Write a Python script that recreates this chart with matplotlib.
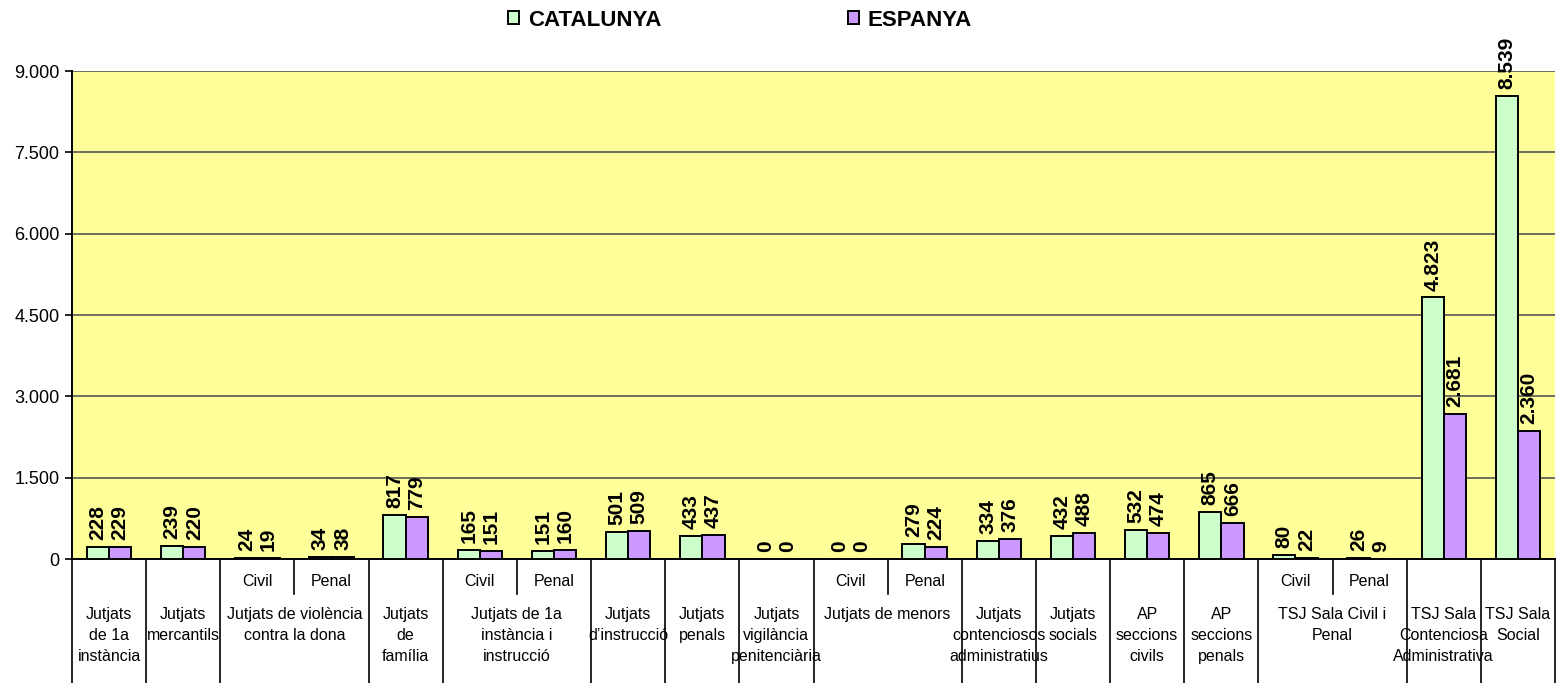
import matplotlib
matplotlib.use("Agg")
import matplotlib.pyplot as plt
from matplotlib.patches import Patch
from matplotlib.lines import Line2D
import matplotlib.transforms as mtransforms

plt.rcParams['font.family'] = ['Liberation Sans', 'DejaVu Sans']

# ---- data ----
sub_labels = ["", "", "Civil", "Penal", "", "Civil", "Penal", "", "", "",
              "Civil", "Penal", "", "", "", "", "Civil", "Penal", "", ""]
groups = [
    ("Jutjats\nde 1a\ninstància", 1),
    ("Jutjats\nmercantils", 1),
    ("Jutjats de violència\ncontra la dona", 2),
    ("Jutjats\nde\nfamília", 1),
    ("Jutjats de 1a\ninstància i\ninstrucció", 2),
    ("Jutjats\nd’instrucció", 1),
    ("Jutjats\npenals", 1),
    ("Jutjats\nvigilància\npenitenciària", 1),
    ("Jutjats de menors", 2),
    ("Jutjats\ncontenciosos\nadministratius", 1),
    ("Jutjats\nsocials", 1),
    ("AP\nseccions\ncivils", 1),
    ("AP\nseccions\npenals", 1),
    ("TSJ Sala Civil i\nPenal", 2),
    ("TSJ Sala\nContenciosa\nAdministrativa", 1),
    ("TSJ Sala\nSocial", 1),
]
catalunya = [228, 239, 24, 34, 817, 165, 151, 501, 433, 0, 0, 279, 334, 432, 532, 865, 80, 26, 4823, 8539]
espanya = [229, 220, 19, 38, 779, 151, 160, 509, 437, 0, 0, 224, 376, 488, 474, 666, 22, 9, 2681, 2360]
series_names = ["CATALUNYA", "ESPANYA"]
yticks = [0, 1500, 3000, 4500, 6000, 7500, 9000]

c_cat = "#CCFFCC"
c_esp = "#CC99FF"

W, H = 1559, 683
fig = plt.figure(figsize=(W / 100, H / 100), dpi=100)
left, right, top, bottom = 72, 1555, 71, 559
ax = fig.add_axes([left / W, 1 - bottom / H, (right - left) / W, (bottom - top) / H])
ax.set_facecolor("#FFFF99")

n = len(catalunya)
xs = list(range(n))
bw = 0.3
b1 = ax.bar([x - bw / 2 for x in xs], catalunya, width=bw, color=c_cat, edgecolor="black", linewidth=1.4, zorder=3)
b2 = ax.bar([x + bw / 2 for x in xs], espanya, width=bw, color=c_esp, edgecolor="black", linewidth=1.4, zorder=3)

def fmt(v):
    return f"{v:,}".replace(",", ".")

for bars, vals in ((b1, catalunya), (b2, espanya)):
    for b, v in zip(bars, vals):
        ax.annotate(fmt(v), (b.get_x() + b.get_width() / 2, v), xytext=(0, 5),
                    textcoords="offset points", rotation=90, ha="center", va="bottom",
                    fontsize=15, fontweight="bold", annotation_clip=False, zorder=5)

ax.set_xlim(-0.5, n - 0.5)
ax.set_ylim(0, 9000)
ax.set_yticks(yticks)
ax.set_yticklabels([fmt(v) for v in yticks], fontsize=13)
ax.yaxis.grid(True, color="#555555", linewidth=1.2, zorder=1)
ax.set_axisbelow(True)
ax.set_xticks([])
for s in ("top", "right"):
    ax.spines[s].set_visible(False)
ax.spines["left"].set_linewidth(1.4)
ax.spines["bottom"].set_linewidth(1.4)
ax.tick_params(axis="y", length=5, width=1.2, pad=4)

# ---- multi-level category axis ----
def ypix(p):
    return 1 - p / H

trans = mtransforms.blended_transform_factory(ax.transData, fig.transFigure)
for i, s in enumerate(sub_labels):
    if s:
        fig.text(i, ypix(581), s, transform=trans, fontsize=11.5, ha="center", va="center")
pos = -0.5
fig.add_artist(Line2D([pos, pos], [ypix(bottom), 0], transform=trans, color="black", linewidth=1.2))
for label, span in groups:
    if span == 2:
        mid = pos + 1
        fig.add_artist(Line2D([mid, mid], [ypix(bottom), ypix(594)], transform=trans, color="black", linewidth=1.2))
    center = pos + span / 2
    fig.text(center, ypix(607), label, transform=trans, fontsize=11.5, ha="center", va="top",
             linespacing=1.5, multialignment="center")
    pos += span
    fig.add_artist(Line2D([pos, pos], [ypix(bottom), 0], transform=trans, color="black", linewidth=1.2))

# ---- legend ----
handles = [Patch(facecolor=c_cat, edgecolor="black", linewidth=1.4),
           Patch(facecolor=c_esp, edgecolor="black", linewidth=1.4)]
leg = fig.legend(handles, series_names, loc="center", bbox_to_anchor=(740 / W, ypix(20)), ncol=2,
                 frameon=False, prop={"weight": "bold", "size": 16}, handlelength=0.5,
                 handleheight=0.5, handletextpad=0.4, columnspacing=8.4)

fig.savefig("out.png", dpi=100)
